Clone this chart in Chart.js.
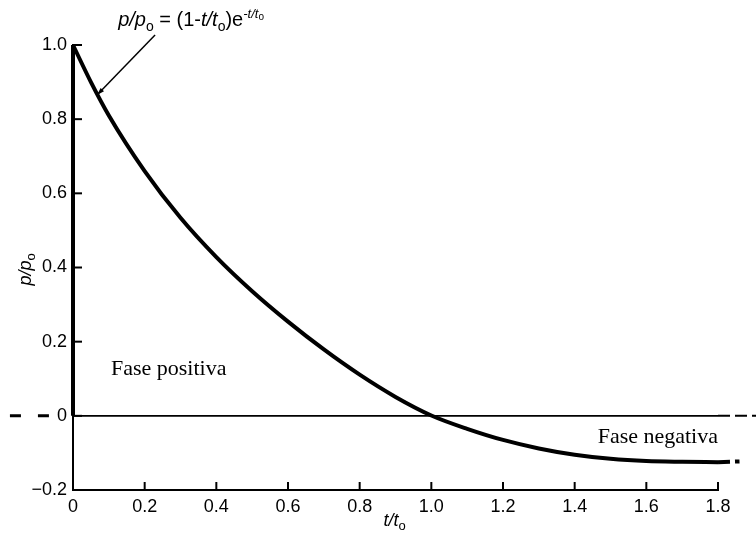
<!DOCTYPE html>
<html>
<head>
<meta charset="utf-8">
<title>p/p0 vs t/t0</title>
<script src="https://cdn.jsdelivr.net/npm/chart.js@4.4.1/dist/chart.umd.min.js"></script>
<style>
  body { margin: 0; background: #fff; }
  #wrap { width: 756px; height: 545px; }
</style>
</head>
<body>
<div id="wrap"><canvas id="pressureChart" width="756" height="545"></canvas></div>
<script>
// curve
const tValues = [0, 0.05, 0.1, 0.2, 0.3, 0.4, 0.5, 0.6, 0.7, 0.8, 0.9, 1.0, 1.1, 1.2, 1.3, 1.4, 1.5, 1.6, 1.7, 1.8];
const pValues = [1.0, 0.90, 0.81, 0.66, 0.534, 0.428, 0.336, 0.254, 0.179, 0.111, 0.051, 0.001, -0.035, -0.065, -0.088, -0.105, -0.116, -0.122, -0.124, -0.125];

// vertical rise at t = 0
const riseT = [0, 0];
const riseP = [0, 1.0];

// dashed continuation past the axis end
const tailT = [1.8, 1.86, 1.91];
const tailP = [-0.125, -0.123, -0.12];

// zero reference line
const zeroT = [0, 1.8];
const zeroRightT = [1.8, 1.91];
const zeroLeftT = [-0.176, -0.064];

// axis ticks
const xTickValues = [0, 0.2, 0.4, 0.6, 0.8, 1.0, 1.2, 1.4, 1.6, 1.8];
const xTickLabels = ['0', '0.2', '0.4', '0.6', '0.8', '1.0', '1.2', '1.4', '1.6', '1.8'];
const yTickValues = [-0.2, 0, 0.2, 0.4, 0.6, 0.8, 1.0];
const yTickLabels = ['\u22120.2', '0', '0.2', '0.4', '0.6', '0.8', '1.0'];

const toPoints = (xs, ys) => xs.map((x, i) => ({ x: x, y: ys[i] }));

const sansFont = 'Liberation Sans, Arial, sans-serif';
const serifFont = 'Liberation Serif, Times New Roman, serif';

// writes "base" + small subscript, returns x after
function writeSub(ctx, text, sub, x, y, size, italic) {
    ctx.font = (italic ? 'italic ' : '') + size + 'px ' + sansFont;
    ctx.fillText(text, x, y);
    x += ctx.measureText(text).width;
    ctx.font = Math.round(size * 0.7) + 'px ' + sansFont;
    ctx.fillText(sub, x, y + size * 0.22);
    return x + ctx.measureText(sub).width;
}

const extrasPlugin = {
    id: 'extras',
    afterDraw(chart) {
        const ctx = chart.ctx;
        const xs = chart.scales.x;
        const ys = chart.scales.y;
        const area = chart.chartArea;
        ctx.save();
        ctx.strokeStyle = '#000';
        ctx.fillStyle = '#000';
        ctx.lineWidth = 2;

        // ticks pointing inward
        xTickValues.forEach(v => {
            const px = xs.getPixelForValue(v);
            ctx.beginPath();
            ctx.moveTo(px, area.bottom);
            ctx.lineTo(px, area.bottom - 8);
            ctx.stroke();
        });
        yTickValues.forEach(v => {
            const py = ys.getPixelForValue(v);
            ctx.beginPath();
            ctx.moveTo(area.left, py);
            ctx.lineTo(area.left + 9, py);
            ctx.stroke();
        });

        ctx.textBaseline = 'alphabetic';

        // x axis title t/t0
        ctx.textAlign = 'left';
        writeSub(ctx, 't/t', 'o', (area.left + area.right) / 2 - 12, 526, 18, true);

        // y axis title p/p0, rotated
        ctx.save();
        ctx.translate(31, (area.top + area.bottom) / 2 + 18);
        ctx.rotate(-Math.PI / 2);
        writeSub(ctx, 'p/p', 'o', 0, 0, 18, true);
        ctx.restore();

        // formula label
        let fx = xs.getPixelForValue(0.126);
        const fy = ys.getPixelForValue(1.05);
        fx = writeSub(ctx, 'p/p', 'o', fx, fy, 20, true);
        ctx.font = '20px ' + sansFont;
        ctx.fillText(' = (1-', fx, fy);
        fx += ctx.measureText(' = (1-').width;
        fx = writeSub(ctx, 't/t', 'o', fx, fy, 20, true);
        ctx.font = '20px ' + sansFont;
        ctx.fillText(')e', fx, fy);
        fx += ctx.measureText(')e').width;
        ctx.font = 'italic 13px ' + sansFont;
        ctx.fillText('-t/t', fx, fy - 8);
        fx += ctx.measureText('-t/t').width;
        ctx.font = '10px ' + sansFont;
        ctx.fillText('o', fx, fy - 6);

        // pointer from formula to curve
        const ax1 = xs.getPixelForValue(0.229), ay1 = ys.getPixelForValue(1.027);
        const ax2 = xs.getPixelForValue(0.067), ay2 = ys.getPixelForValue(0.865);
        ctx.lineWidth = 1.5;
        ctx.beginPath();
        ctx.moveTo(ax1, ay1);
        ctx.lineTo(ax2, ay2);
        ctx.stroke();
        const ang = Math.atan2(ay2 - ay1, ax2 - ax1);
        ctx.beginPath();
        ctx.moveTo(ax2, ay2);
        ctx.lineTo(ax2 - 8 * Math.cos(ang - 0.3), ay2 - 8 * Math.sin(ang - 0.3));
        ctx.lineTo(ax2 - 8 * Math.cos(ang + 0.3), ay2 - 8 * Math.sin(ang + 0.3));
        ctx.closePath();
        ctx.fill();

        // phase labels
        ctx.font = '22px ' + serifFont;
        ctx.textAlign = 'left';
        ctx.fillText('Fase positiva', xs.getPixelForValue(0.106), ys.getPixelForValue(0.11));
        ctx.textAlign = 'right';
        ctx.fillText('Fase negativa', xs.getPixelForValue(1.8), ys.getPixelForValue(-0.073));

        ctx.restore();
    }
};

const chartCtx = document.getElementById('pressureChart');
new Chart(chartCtx, {
    type: 'line',
    data: {
        datasets: [{
            label: 'zero',
            data: toPoints(zeroT, [0, 0]),
            borderColor: '#000',
            borderWidth: 1.6,
            pointRadius: 0
        }, {
            label: 'zero right',
            data: toPoints(zeroRightT, [0, 0]),
            borderColor: '#000',
            borderWidth: 2,
            borderDash: [12, 5],
            pointRadius: 0,
            clip: false
        }, {
            label: 'zero left',
            data: toPoints(zeroLeftT, [0, 0]),
            borderColor: '#000',
            borderWidth: 3,
            borderDash: [11, 17],
            pointRadius: 0,
            clip: false
        }, {
            label: 'rise',
            data: toPoints(riseT, riseP),
            borderColor: '#000',
            borderWidth: 4,
            pointRadius: 0,
            clip: false
        }, {
            label: 'p/p0',
            data: toPoints(tValues, pValues),
            borderColor: '#000',
            borderWidth: 4,
            pointRadius: 0,
            cubicInterpolationMode: 'monotone',
            clip: false
        }, {
            label: 'tail',
            data: toPoints(tailT, tailP),
            borderColor: '#000',
            borderWidth: 4,
            borderDash: [12, 5],
            pointRadius: 0,
            clip: false
        }]
    },
    options: {
        responsive: false,
        animation: false,
        devicePixelRatio: 1,
        layout: {
            padding: { top: 45, right: 38, bottom: 0, left: 0 }
        },
        plugins: {
            legend: { display: false },
            tooltip: { enabled: false }
        },
        scales: {
            x: {
                type: 'linear',
                min: 0,
                max: 1.8,
                afterBuildTicks: s => { s.ticks = xTickValues.map(v => ({ value: v })); },
                afterFit: s => { s.height = 55; },
                grid: { display: false, drawTicks: false },
                border: { display: true, color: '#000', width: 2 },
                ticks: {
                    color: '#000',
                    padding: 6,
                    maxRotation: 0,
                    font: { family: sansFont, size: 18 },
                    callback: (v, i) => xTickLabels[i]
                }
            },
            y: {
                type: 'linear',
                min: -0.2,
                max: 1.0,
                afterBuildTicks: s => { s.ticks = yTickValues.map(v => ({ value: v })); },
                afterFit: s => { s.width = 73; },
                grid: { display: false, drawTicks: false },
                border: { display: true, color: '#000', width: 2 },
                ticks: {
                    color: '#000',
                    padding: 6,
                    font: { family: sansFont, size: 18 },
                    callback: (v, i) => yTickLabels[i]
                }
            }
        }
    },
    plugins: [extrasPlugin]
});
</script>
</body>
</html>
